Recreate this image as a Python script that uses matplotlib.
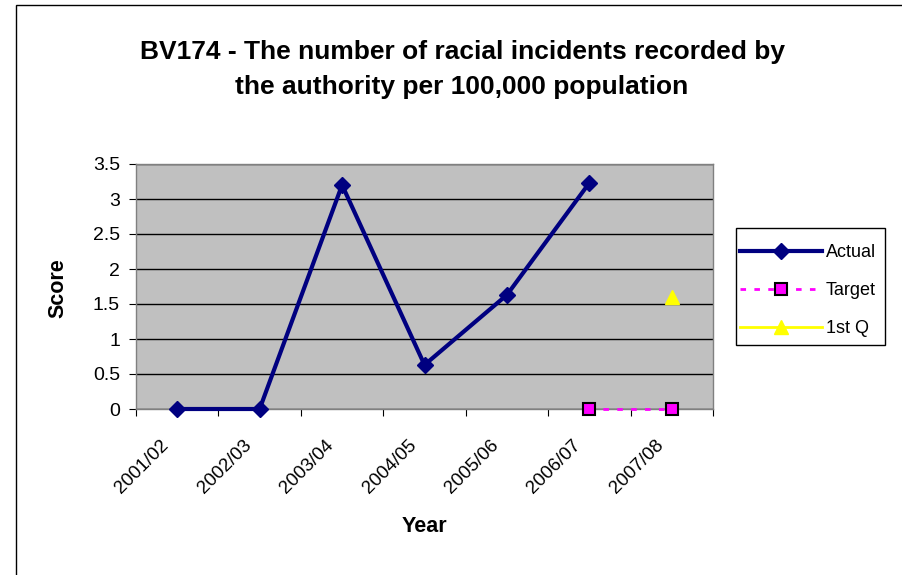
import matplotlib
matplotlib.use("Agg")
import matplotlib.pyplot as plt
from matplotlib.patches import Rectangle
from matplotlib.transforms import ScaledTranslation
import numpy as np

plt.rcParams['font.family'] = ['Liberation Sans', 'DejaVu Sans']

years = ["2001/02", "2002/03", "2003/04", "2004/05", "2005/06", "2006/07", "2007/08"]
actual = [0, 0, 3.2, 0.63, 1.63, 3.23, np.nan]
target = [np.nan, np.nan, np.nan, np.nan, np.nan, 0, 0]
first_q = [np.nan, np.nan, np.nan, np.nan, np.nan, np.nan, 1.6]
y_ticks = [0, 0.5, 1, 1.5, 2, 2.5, 3, 3.5]
y_tick_labels = ["0", "0.5", "1", "1.5", "2", "2.5", "3", "3.5"]

W, H = 902, 575
fig = plt.figure(figsize=(W / 100, H / 100), dpi=100)
fig.patch.set_facecolor('white')

# chart-area border
fig.patches.append(Rectangle((16 / W, -0.1), 1.2, 1 - 5 / H + 0.1, transform=fig.transFigure,
                             fill=False, edgecolor='black', linewidth=1.0))

ax = fig.add_axes([136 / W, 1 - 409 / H, (713 - 136) / W, (409 - 164) / H])
ax.set_facecolor('#C0C0C0')
for s in ax.spines.values():
    s.set_color('#808080')
    s.set_linewidth(1.0)

x = np.arange(len(years))
ax.set_xlim(-0.5, len(years) - 0.5)
ax.set_ylim(0, 3.5)
ax.set_yticks(y_ticks)
ax.set_yticklabels(y_tick_labels)
ax.yaxis.grid(True, color='black', linewidth=1.0)
ax.set_axisbelow(True)

# tick marks on category boundaries, labels on category centres
ax.set_xticks(np.arange(-0.5, len(years), 1.0))
ax.set_xticklabels([])
ax.set_xticks(x, minor=True)
ax.tick_params(axis='x', which='minor', length=0, pad=0)
ax.tick_params(axis='x', which='major', length=5, color='black', direction='out')
ax.tick_params(axis='y', length=5, color='black', direction='out', labelsize=14, pad=6.5)
ax.set_xticklabels(years, minor=True, rotation=45, ha='right', va='top',
                   rotation_mode='anchor', fontsize=13.5)
shift = ScaledTranslation(-17 / 100, -28 / 100, fig.dpi_scale_trans)
for lab in ax.get_xticklabels(minor=True):
    lab.set_transform(lab.get_transform() + shift)

ax.plot(x, actual, color='#000080', linewidth=3.0, marker='D', markersize=8.5,
        markerfacecolor='#000080', markeredgecolor='#000080', label='Actual',
        clip_on=False, zorder=4)
ax.plot(x, target, color='#FF00FF', linewidth=2.0, linestyle=(0, (2, 3)), marker='s',
        markersize=8.5, markerfacecolor='#FF00FF', markeredgecolor='black',
        markeredgewidth=1.5, label='Target', clip_on=False, zorder=5)
ax.plot(x, first_q, color='#FFFF00', linewidth=2.0, marker='^', markersize=10,
        markerfacecolor='#FFFF00', markeredgecolor='#FFFF00', label='1st Q',
        clip_on=False, zorder=5)

ax.set_xlabel("Year", fontsize=15.5, fontweight='bold')
ax.xaxis.set_label_coords(0.5, (409 - 526) / 245)
ax.xaxis.label.set_va('center')
ax.set_ylabel("Score", fontsize=15.5, fontweight='bold')
ax.yaxis.set_label_coords((58 - 136) / 577, (409 - 288) / 245)
ax.yaxis.label.set_va('center')

fig.text(462 / W, 1 - 69.5 / H,
         "BV174 - The number of racial incidents recorded by\nthe authority per 100,000 population",
         ha='center', va='center', fontsize=19, fontweight='bold', linespacing=1.55)

# legend entries, with the box drawn separately
leg = ax.legend(loc='upper left', bbox_to_anchor=(740 / W, 1 - 244 / H),
                bbox_transform=fig.transFigure, fontsize=13, frameon=False,
                handlelength=4.55, handletextpad=0.22, labelspacing=1.17,
                borderpad=0, borderaxespad=0)
fig.patches.append(Rectangle((736 / W, 1 - 345 / H), (885 - 736) / W, (345 - 228) / H,
                             transform=fig.transFigure, fill=False,
                             edgecolor='black', linewidth=1.0))

fig.savefig("out.png", dpi=100, facecolor='white')
